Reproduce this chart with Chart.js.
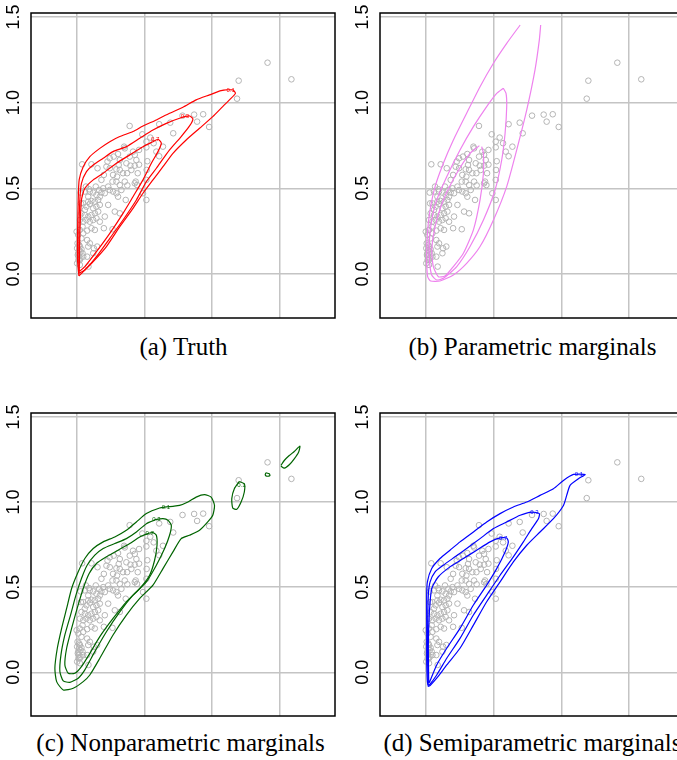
<!DOCTYPE html>
<html>
<head>
<meta charset="utf-8">
<script src="https://cdn.jsdelivr.net/npm/chart.js@4.4.1/dist/chart.umd.min.js"></script>
<style>
    html, body { margin: 0; padding: 0; background: #fff; }
    #page { position: relative; width: 677px; height: 760px; overflow: hidden; }
    canvas { position: absolute; }
    .cap {
        position: absolute; width: 305px; text-align: center; white-space: nowrap;
        font-family: "Liberation Serif", "Times New Roman", serif; font-size: 25px; line-height: 28px; color: #000;
    }
</style>
</head>
<body>
<div id="page">
    <canvas id="chartA" width="340" height="330" style="left:0;top:0"></canvas>
    <canvas id="chartB" width="350" height="330" style="left:340px;top:0"></canvas>
    <canvas id="chartC" width="340" height="330" style="left:0;top:395px"></canvas>
    <canvas id="chartD" width="350" height="330" style="left:340px;top:395px"></canvas>
    <div class="cap" style="left:31px;top:333px">(a) Truth</div>
    <div class="cap" style="left:380px;top:333px">(b) Parametric marginals</div>
    <div class="cap" style="left:28px;top:729px">(c) Nonparametric marginals</div>
    <div class="cap" style="left:380px;top:729px">(d) Semiparametric marginals</div>
</div>
<script>
// axes
const xTicks = [0, 0.5, 1, 1.5];
const yTicks = [0, 0.5, 1, 1.5];
const yTickLabels = ['0.0', '0.5', '1.0', '1.5'];

// observed points (same in every panel)
const ptX = [1.413, 1.59, 1.199, 1.187, 0.98, 0.936, 0.891, 0.869, 0.783, 0.692, 0.610, 0.714, 0.391,
    0.544, 0.485, 0.569, 0.515, 0.638, 0.610, 0.515, 0.589, 0.461, 0.355, 0.350, 0.429, 0.522, 0.517,
    0.515, 0.490, 0.515, 0.451, 0.461, 0.429, 0.397, 0.367, 0.318, 0.310, 0.372, 0.318, 0.298, 0.268,
    0.227, 0.219, 0.244, 0.153, 0.108, 0.039, 0.200, 0.182, 0.264, 0.293, 0.318, 0.355, 0.374, 0.429,
    0.436, 0.446, 0.232, 0.195, 0.244, 0.268, 0.293, 0.305, 0.330, 0.362, 0.318, 0.281, 0.232, 0.207,
    0.200, 0.264, 0.158, 0.170, 0.145, 0.121, 0.096, 0.059, 0.084, 0.047, 0.071, 0.096, 0.121, 0.145,
    0.170, 0.158, 0.133, 0.108, 0.084, 0.059, 0.034, 0.022, 0.047, 0.071, 0.096, 0.121, 0.145, 0.170,
    0.133, 0.108, 0.076, 0.047, 0.022, 0.034, 0.076, 0.096, 0.084, 0.150, 0.126, 0.121, 0.076, 0.047,
    0.022, 0.002, 0.017, 0.010, 0.022, 0.005, 0.034, 0.012, 0.027, 0.012, -0.002, 0.010, 0.042, 0.059,
    0.084, 0.108, 0.133, 0.182, 0.207, 0.165, 0.140, 0.091, 0.067, 0.030, 0.027, 0.244, 0.273, 0.305,
    0.416, 0.392, 0.441, 0.404, 0.342, 0.293, 0.002, 0.017, 0.027, 0.042, 0.007, 0.022, 0.086];
const ptY = [1.233, 1.136, 1.128, 1.023, 0.858, 0.932, 0.889, 0.930, 0.924, 0.883, 0.874, 0.821, 0.864,
    0.796, 0.815, 0.763, 0.772, 0.743, 0.687, 0.739, 0.714, 0.724, 0.733, 0.743, 0.695, 0.658, 0.607,
    0.549, 0.471, 0.432, 0.588, 0.638, 0.632, 0.632, 0.646, 0.665, 0.636, 0.588, 0.607, 0.568, 0.578,
    0.656, 0.626, 0.617, 0.617, 0.640, 0.640, 0.578, 0.549, 0.539, 0.539, 0.519, 0.539, 0.517, 0.529,
    0.539, 0.519, 0.510, 0.500, 0.490, 0.481, 0.471, 0.451, 0.490, 0.432, 0.354, 0.364, 0.403, 0.335,
    0.267, 0.261, 0.432, 0.451, 0.461, 0.475, 0.481, 0.481, 0.451, 0.412, 0.393, 0.409, 0.383, 0.393,
    0.403, 0.364, 0.354, 0.344, 0.335, 0.344, 0.354, 0.315, 0.305, 0.315, 0.305, 0.315, 0.325, 0.305,
    0.257, 0.267, 0.253, 0.237, 0.257, 0.208, 0.198, 0.179, 0.160, 0.160, 0.150, 0.121, 0.101, 0.101,
    0.082, 0.062, 0.140, 0.121, 0.160, 0.179, 0.144, 0.101, 0.091, 0.082, 0.247, 0.228, 0.276, 0.374,
    0.422, 0.426, 0.422, 0.475, 0.471, 0.490, 0.510, 0.494, 0.510, 0.412, 0.475, 0.675, 0.685, 0.700,
    0.714, 0.685, 0.665, 0.607, 0.588, 0.611, 0.150, 0.169, 0.130, 0.121, 0.111, 0.053, 0.043];

// (a) truth contours, levels 0.1 / 0.3 / 0.7
const truth01 = [[0.015,-0.012],[0.005,0.082],[0.005,0.237],[0.010,0.432],[0.017,0.549],[0.047,0.626],[0.096,0.685],
    [0.170,0.733],[0.244,0.772],[0.318,0.802],[0.416,0.831],[0.490,0.864],[0.589,0.899],[0.687,0.938],[0.786,0.973],
    [0.884,1.016],[0.983,1.045],[1.069,1.070],[1.155,1.074],[1.175,1.054],[1.131,1.016],[1.081,0.977],[1.007,0.918],
    [0.909,0.850],[0.810,0.782],[0.712,0.704],[0.638,0.626],[0.564,0.549],[0.490,0.471],[0.416,0.383],[0.318,0.276],
    [0.219,0.160],[0.121,0.072],[0.047,0.014],[0.015,-0.012]];
const truth03 = [[0.015,0.004],[0.015,0.237],[0.022,0.432],[0.034,0.529],[0.071,0.597],[0.121,0.636],[0.195,0.675],
    [0.268,0.714],[0.367,0.743],[0.466,0.792],[0.564,0.840],[0.663,0.879],[0.761,0.909],[0.835,0.922],[0.860,0.905],
    [0.835,0.864],[0.773,0.802],[0.687,0.724],[0.589,0.617],[0.515,0.539],[0.441,0.432],[0.342,0.315],[0.244,0.208],
    [0.145,0.101],[0.059,0.023],[0.015,0.004]];
const truth07 = [[0.017,0.014],[0.022,0.237],[0.034,0.432],[0.059,0.500],[0.121,0.549],[0.195,0.588],[0.293,0.646],
    [0.392,0.695],[0.490,0.743],[0.564,0.772],[0.601,0.786],[0.626,0.763],[0.601,0.714],[0.552,0.646],[0.490,0.549],
    [0.416,0.451],[0.342,0.354],[0.244,0.237],[0.145,0.130],[0.059,0.043],[0.017,0.014]];

// (b) parametric marginals
const param01 = [[0.695,1.453],[0.596,1.346],[0.498,1.230],[0.399,1.093],[0.300,0.938],[0.202,0.782],[0.128,0.646],
    [0.067,0.510],[0.030,0.374],[0.010,0.237],[0.005,0.082],[0.012,-0.016],[0.034,-0.041],[0.103,-0.041],[0.202,-0.006],
    [0.300,0.062],[0.399,0.160],[0.498,0.315],[0.596,0.510],[0.670,0.724],[0.744,0.957],[0.805,1.191],[0.837,1.366],
    [0.847,1.453]];
const param03 = [[0.571,1.084],[0.522,1.054],[0.448,0.977],[0.350,0.860],[0.251,0.724],[0.153,0.568],[0.079,0.432],
    [0.042,0.315],[0.025,0.198],[0.025,0.082],[0.042,-0.006],[0.079,-0.035],[0.128,-0.025],[0.227,0.043],[0.325,0.160],
    [0.424,0.315],[0.510,0.490],[0.559,0.665],[0.584,0.821],[0.596,0.977],[0.591,1.054],[0.571,1.084]];
const param07 = [[0.394,0.749],[0.325,0.704],[0.227,0.588],[0.128,0.432],[0.067,0.276],[0.042,0.140],[0.054,0.043],
    [0.091,-0.016],[0.140,-0.012],[0.202,0.043],[0.276,0.121],[0.350,0.257],[0.399,0.432],[0.424,0.588],[0.424,0.704],
    [0.411,0.743]];

// (c) nonparametric marginals
const nonpar01 = [[0.663,0.971],[0.613,0.965],[0.515,0.932],[0.441,0.883],[0.367,0.834],[0.281,0.795],[0.195,0.766],
    [0.121,0.727],[0.059,0.668],[0.010,0.590],[-0.039,0.492],[-0.076,0.375],[-0.113,0.258],[-0.145,0.141],[-0.163,0.023],
    [-0.150,-0.055],[-0.101,-0.104],[-0.027,-0.094],[0.047,-0.055],[0.096,-0.016],[0.170,0.082],[0.268,0.219],
    [0.367,0.336],[0.466,0.434],[0.564,0.512],[0.638,0.609],[0.712,0.707],[0.773,0.785],[0.835,0.805],[0.909,0.834],
    [0.970,0.883],[1.007,0.922],[1.020,0.980],[0.995,1.029],[0.946,1.043],[0.884,1.029],[0.823,1.000],[0.761,0.980],
    [0.712,0.975],[0.663,0.971]];
const nonpar03 = [[0.589,0.898],[0.515,0.873],[0.441,0.824],[0.367,0.785],[0.281,0.756],[0.195,0.727],[0.133,0.688],
    [0.076,0.629],[0.034,0.551],[-0.007,0.453],[-0.047,0.336],[-0.089,0.219],[-0.118,0.102],[-0.126,0.004],
    [-0.101,-0.051],[-0.052,-0.059],[0.010,-0.035],[0.059,0.014],[0.133,0.121],[0.219,0.238],[0.318,0.355],
    [0.416,0.453],[0.515,0.531],[0.589,0.629],[0.650,0.727],[0.687,0.805],[0.700,0.863],[0.675,0.893],[0.638,0.902],
    [0.589,0.898]];
const nonpar07 = [[0.539,0.818],[0.466,0.795],[0.392,0.756],[0.305,0.717],[0.219,0.678],[0.145,0.639],[0.091,0.580],
    [0.047,0.492],[0.002,0.375],[-0.039,0.258],[-0.076,0.141],[-0.089,0.043],[-0.064,-0.006],[-0.015,-0.006],
    [0.034,0.033],[0.096,0.111],[0.170,0.209],[0.268,0.316],[0.367,0.414],[0.466,0.492],[0.539,0.570],[0.576,0.658],
    [0.594,0.746],[0.589,0.805],[0.564,0.820],[0.539,0.818]];
const nonparIsle1 = [[1.204,1.121],[1.241,1.107],[1.241,1.059],[1.217,1.000],[1.185,0.957],[1.155,0.965],[1.148,1.020],
    [1.167,1.078],[1.204,1.121]];
const nonparIsle2 = [[1.401,1.172],[1.426,1.166],[1.431,1.156],[1.406,1.152],[1.396,1.160],[1.401,1.172]];
const nonparIsle3 = [[1.512,1.215],[1.537,1.244],[1.574,1.273],[1.611,1.297],[1.653,1.328],[1.643,1.293],[1.611,1.254],
    [1.574,1.219],[1.537,1.199],[1.512,1.211]];

// (d) semiparametric marginals
const semi01 = [[0.017,-0.084],[0.010,-0.055],[0.005,0.063],[0.005,0.258],[0.005,0.453],[0.010,0.531],[0.042,0.609],
    [0.103,0.668],[0.177,0.717],[0.251,0.766],[0.350,0.824],[0.448,0.883],[0.547,0.932],[0.645,0.971],[0.744,1.000],
    [0.842,1.039],[0.941,1.078],[1.015,1.127],[1.089,1.162],[1.175,1.162],[1.126,1.137],[1.064,1.098],[1.039,1.039],
    [1.015,0.980],[0.941,0.902],[0.842,0.824],[0.744,0.746],[0.645,0.648],[0.547,0.531],[0.448,0.414],[0.350,0.277],
    [0.251,0.141],[0.153,0.043],[0.079,-0.035],[0.030,-0.078],[0.017,-0.084]];
const semi03 = [[0.015,-0.074],[0.012,0.063],[0.012,0.258],[0.017,0.453],[0.030,0.531],[0.067,0.590],[0.128,0.629],
    [0.214,0.678],[0.300,0.727],[0.399,0.785],[0.498,0.844],[0.596,0.883],[0.695,0.922],[0.781,0.941],[0.837,0.932],
    [0.830,0.902],[0.781,0.844],[0.719,0.766],[0.645,0.678],[0.547,0.570],[0.448,0.453],[0.350,0.336],[0.251,0.199],
    [0.153,0.082],[0.079,-0.016],[0.025,-0.074],[0.015,-0.074]];
const semi07 = [[0.020,-0.064],[0.017,0.160],[0.025,0.355],[0.042,0.492],[0.091,0.561],[0.177,0.619],[0.276,0.668],
    [0.374,0.717],[0.473,0.766],[0.547,0.789],[0.596,0.789],[0.608,0.766],[0.584,0.707],[0.522,0.609],[0.448,0.512],
    [0.350,0.395],[0.251,0.258],[0.153,0.141],[0.079,0.043],[0.025,-0.059],[0.020,-0.064]];

// contour level labels (text, x, y)
const truthLabels = [['0.1', 1.14, 1.074], ['0.3', 0.80, 0.922], ['0.7', 0.58, 0.786]];
const semiLabels = [['0.1', 1.13, 1.162], ['0.3', 0.80, 0.941], ['0.7', 0.57, 0.789]];
const nonparLabels = [['0.1', 0.66, 0.971], ['0.3', 0.59, 0.898], ['0.7', 0.54, 0.818], ['0.1', 1.22, 1.10]];
const paramLabels = [];

const xy = pts => pts.map(p => ({ x: p[0], y: p[1] }));
const points = ptX.map((x, i) => ({ x: x, y: ptY[i] }));

// frame, rotated y tick labels and contour labels
const framePlugin = {
    id: 'frame',
    afterDraw(chart, args, opts) {
        const { ctx, chartArea: a, scales: { y, x } } = chart;
        ctx.save();
        ctx.strokeStyle = '#000';
        ctx.lineWidth = 1.5;
        ctx.strokeRect(a.left, a.top, a.right - a.left, a.bottom - a.top);
        ctx.fillStyle = '#000';
        ctx.font = '18px "Liberation Sans", Arial, sans-serif';
        ctx.textAlign = 'center';
        ctx.textBaseline = 'middle';
        yTicks.forEach((v, i) => {
            ctx.save();
            ctx.translate(a.left - 17, y.getPixelForValue(v));
            ctx.rotate(-Math.PI / 2);
            ctx.fillText(yTickLabels[i], 0, 0);
            ctx.restore();
        });
        ctx.font = '6px "Liberation Sans", Arial, sans-serif';
        ctx.fillStyle = opts.color;
        (opts.labels || []).forEach(l => {
            ctx.fillText(l[0], x.getPixelForValue(l[1]), y.getPixelForValue(l[2]));
        });
        ctx.restore();
    }
};

function makePanel(id, padding, contours, color, labels) {
    const datasets = contours.map(c => ({
        type: 'scatter',
        data: xy(c),
        showLine: true,
        borderColor: color,
        borderWidth: 1.2,
        pointRadius: 0,
        tension: 0.2,
        fill: false
    }));
    datasets.push({
        type: 'scatter',
        data: points,
        pointStyle: 'circle',
        pointRadius: 2.8,
        borderWidth: 1,
        borderColor: '#b4b4b4',
        backgroundColor: 'rgba(0,0,0,0)'
    });
    const setTicks = vals => scale => { scale.ticks = vals.map(v => ({ value: v })); };
    return new Chart(document.getElementById(id).getContext('2d'), {
        type: 'scatter',
        data: { datasets: datasets },
        options: {
            responsive: false,
            animation: false,
            events: [],
            layout: { padding: padding },
            plugins: {
                legend: { display: false },
                tooltip: { enabled: false },
                frame: { color: color, labels: labels }
            },
            scales: {
                x: {
                    type: 'linear', min: -0.34, max: 1.913,
                    afterBuildTicks: setTicks(xTicks),
                    ticks: { display: false },
                    grid: { color: '#c4c4c4', lineWidth: 1.5, drawTicks: false },
                    border: { display: false }
                },
                y: {
                    type: 'linear', min: -0.257, max: 1.523,
                    afterBuildTicks: setTicks(yTicks),
                    ticks: { display: false },
                    grid: { color: '#c4c4c4', lineWidth: 1.5, drawTicks: false },
                    border: { display: false }
                }
            }
        },
        plugins: [framePlugin]
    });
}

makePanel('chartA', { left: 31, top: 13, right: 4, bottom: 12 },
    [truth01, truth03, truth07], '#ff0000', truthLabels);
makePanel('chartB', { left: 40, top: 13, right: 5, bottom: 12 },
    [param01, param03, param07], '#ee82ee', paramLabels);
makePanel('chartC', { left: 31, top: 18, right: 4, bottom: 9 },
    [nonpar01, nonpar03, nonpar07, nonparIsle1, nonparIsle2, nonparIsle3], '#006400', nonparLabels);
makePanel('chartD', { left: 40, top: 18, right: 5, bottom: 9 },
    [semi01, semi03, semi07], '#0000ff', semiLabels);
</script>
</body>
</html>
